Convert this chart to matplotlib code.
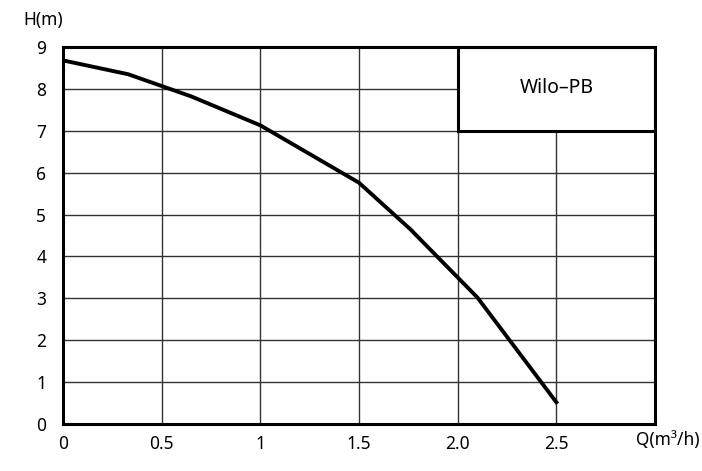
import matplotlib
matplotlib.use("Agg")
import matplotlib.pyplot as plt
from matplotlib.patches import Rectangle

Q = [0.0, 0.33, 0.65, 1.0, 1.5, 1.76, 2.1, 2.5]
H = [8.68, 8.35, 7.82, 7.13, 5.76, 4.65, 3.02, 0.52]
x_ticks = [0, 0.5, 1, 1.5, 2.0, 2.5]
x_labels = ["0", "0.5", "1", "1.5", "2.0", "2.5"]
y_ticks = [0, 1, 2, 3, 4, 5, 6, 7, 8, 9]
title_text = "Wilo–PB"

plt.rcParams['font.family'] = ['Liberation Sans Narrow', 'Noto Sans', 'DejaVu Sans']

fig = plt.figure(figsize=(7.02, 4.71), dpi=100)
ax = fig.add_axes([63/702, 1-424/471, (655-63)/702, (424-47)/471])
ax.set_xlim(0, 3.0)
ax.set_ylim(0, 9)

for xv in [0.5, 1.0, 1.5, 2.0, 2.5]:
    ax.axvline(xv, color='#333333', lw=1.0, zorder=1)
for yv in range(1, 9):
    ax.axhline(yv, color='#333333', lw=1.0, zorder=1)

ax.add_patch(Rectangle((2.0, 7.0), 1.0, 2.0, facecolor='white', edgecolor='black', lw=2.2, zorder=3))
ax.text(2.5, 8.02, title_text, ha='center', va='center', fontsize=14, zorder=4)

ax.plot(Q, H, color='black', lw=2.8, zorder=5, solid_joinstyle='round')

for s in ax.spines.values():
    s.set_linewidth(2.2)
    s.set_zorder(6)

ax.set_xticks(x_ticks)
ax.set_xticklabels(x_labels)
ax.set_yticks(y_ticks)
ax.tick_params(length=0, labelsize=12.5)
ax.tick_params(axis='x', pad=8)
ax.tick_params(axis='y', pad=12)

fig.text(23/702, 1-20/471, "H(m)", fontsize=12.5, ha='left', va='center')
fig.text(636/702, 1-440/471, "Q(m³/h)", fontsize=12.5, ha='left', va='center')

fig.savefig("out.png", dpi=100)
